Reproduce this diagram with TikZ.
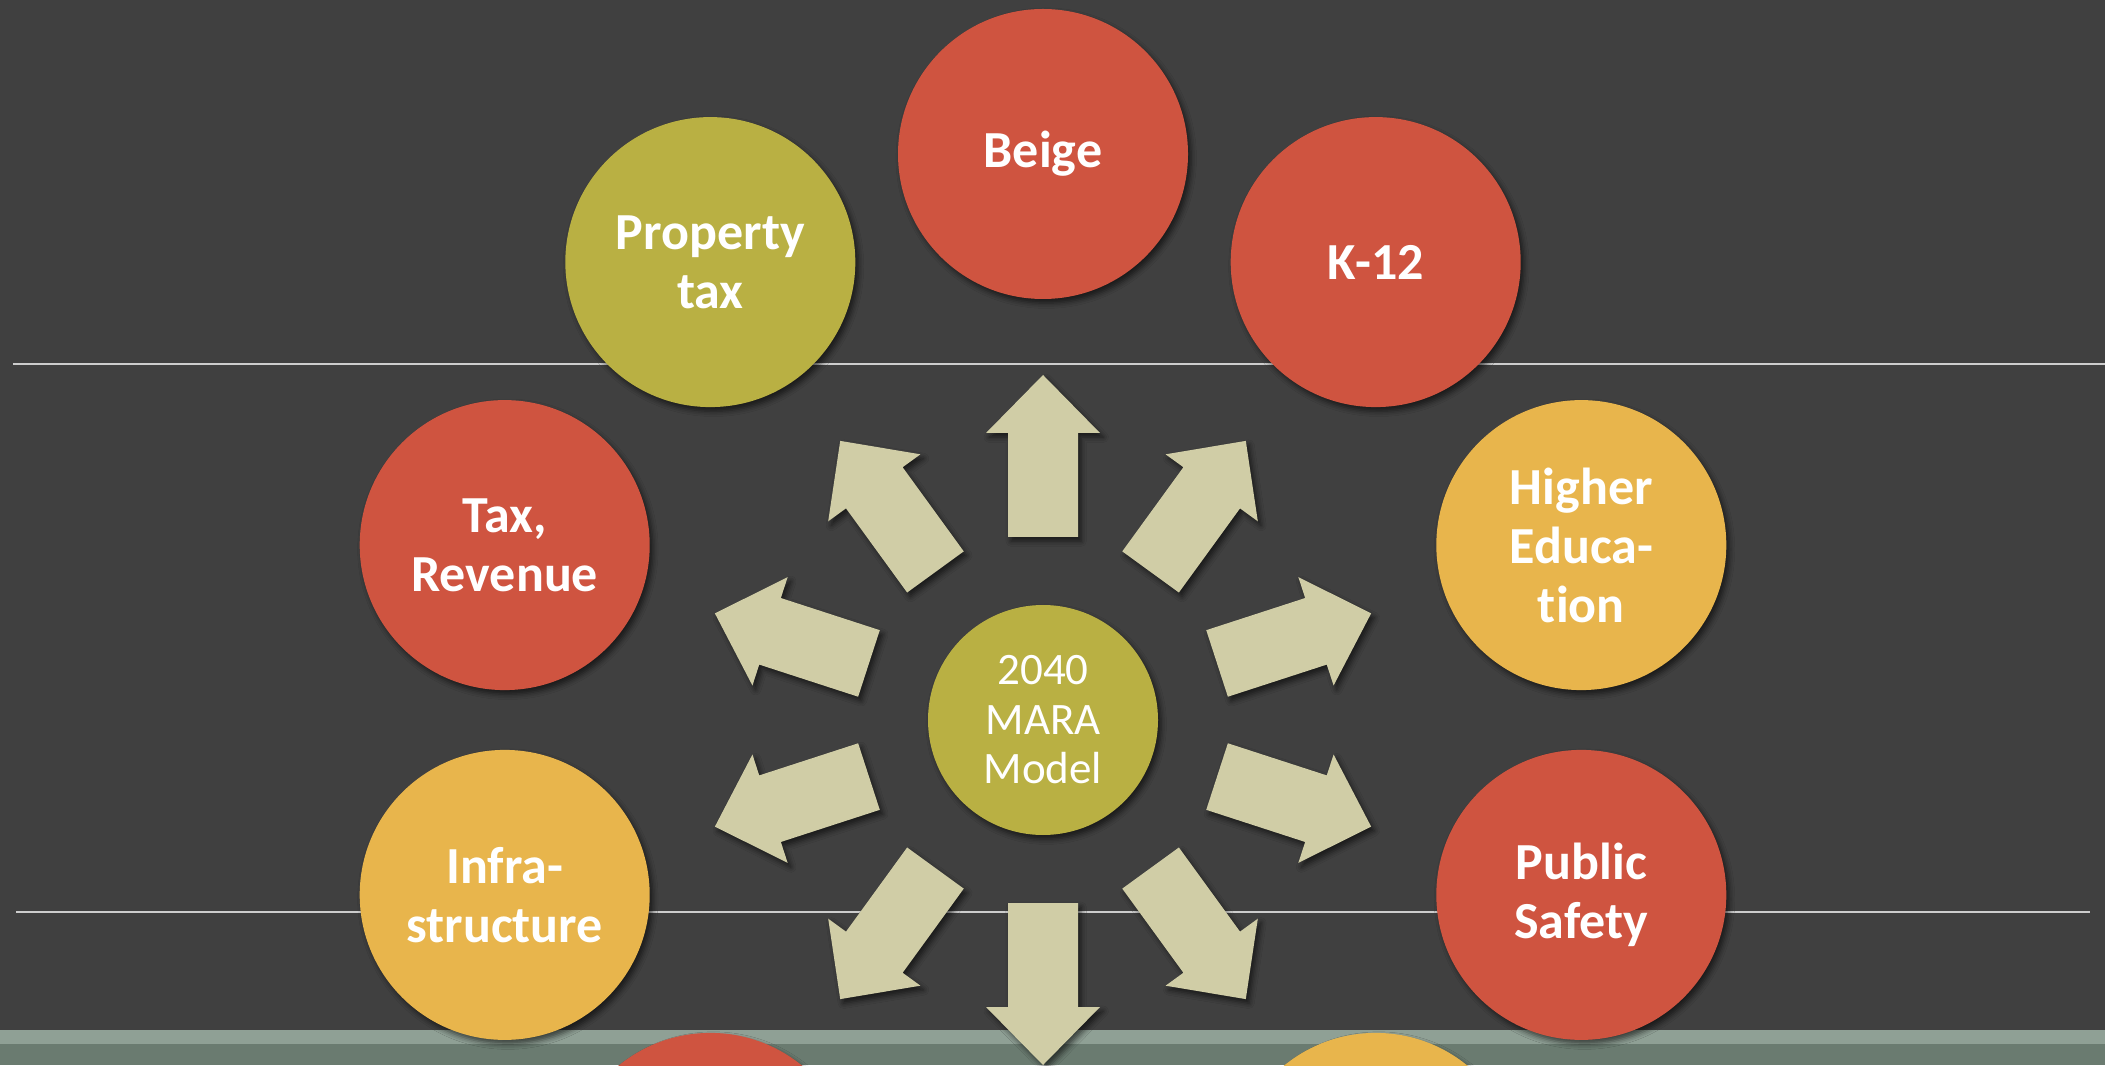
\documentclass[tikz,border=0pt]{standalone}
\usepackage{fontspec}
\setmainfont{Carlito}[Ligatures=NoCommon]
\usetikzlibrary{
		calc,
		positioning,
		shadows.blur
	}
\definecolor{slate}{HTML}{404040}
\definecolor{brick}{HTML}{CF5440}
\definecolor{mossy}{HTML}{B9B043}
\definecolor{amber}{HTML}{E8B54C}
\definecolor{sand}{HTML}{D0CDA6}
\definecolor{stripa}{HTML}{8FA095}
\definecolor{stripb}{HTML}{6A7B70}
\definecolor{rulegray}{HTML}{CDCDCD}
\tikzset{
		>=stealth,
		softshadow/.style={blur shadow={shadow xshift=0.9pt, shadow yshift=-1.2pt,
				shadow blur radius=1.5pt, shadow opacity=60}},
		topic/.style={circle, minimum size=2.9cm, inner sep=0pt, fill=#1,
				text=white, align=center, softshadow,
				font=\fontsize{14.8pt}{16.8pt}\selectfont\bfseries},
		hub/.style={circle, minimum size=2.3cm, inner sep=0pt, fill=mossy,
				text=white, align=center, softshadow,
				font=\fontsize{12.8pt}{14.1pt}\selectfont},
		blockarrow/.style={fill=sand, softshadow}
	}

\begin{document}
\begin{tikzpicture}[thick]
          \useasboundingbox (0,0) rectangle (21.05,10.65);
          \fill[slate] (0,0) rectangle (21.05,10.65);

          % footer band
          \fill[stripb] (0,0) rectangle (21.05,0.21);
          \fill[stripa] (0,0.21) rectangle (21.05,0.35);

          % rules
          \coordinate (R1a) at (0.13,7.01);
          \coordinate (R1b) at (21.05,7.01);
          \coordinate (R2a) at (0.16,1.53);
          \coordinate (R2b) at (20.90,1.53);
          \draw[rulegray, line width=0.5pt] (R1a) -- (R1b);
          \draw[rulegray, line width=0.5pt] (R2a) -- (R2b);

          \coordinate (hubc) at (10.43,3.45);

          % arrows
          \foreach \ang in {18,54,...,342}
            \fill[blockarrow]
              ($(hubc)+(\ang:1.83)+(\ang-90:0.35)$) --
              ($(hubc)+(\ang:2.87)+(\ang-90:0.35)$) --
              ($(hubc)+(\ang:2.87)+(\ang-90:0.57)$) --
              ($(hubc)+(\ang:3.45)$) --
              ($(hubc)+(\ang:2.87)+(\ang+90:0.57)$) --
              ($(hubc)+(\ang:2.87)+(\ang+90:0.35)$) --
              ($(hubc)+(\ang:1.83)+(\ang+90:0.35)$) -- cycle;

          \node[hub] (mara) at (hubc) {2040\\MARA\\Model};

          % topics
          \foreach \ang/\col/\name/\txt in {
              90/brick/beige/Beige,
              54/brick/ktwelve/K-12,
              126/mossy/proptax/{Property\\tax},
              18/amber/highered/{Higher\\Educa-\\tion},
              162/brick/taxrev/{Tax,\\Revenue},
              -18/brick/safety/{Public\\Safety},
              198/amber/infra/{Infra-\\structure},
              -54/amber/lowright/{},
              234/brick/lowleft/{}}
            \node[topic=\col] (\name) at ($(hubc)+(\ang:5.66)$) {\txt};

          \end{tikzpicture}
\end{document}
